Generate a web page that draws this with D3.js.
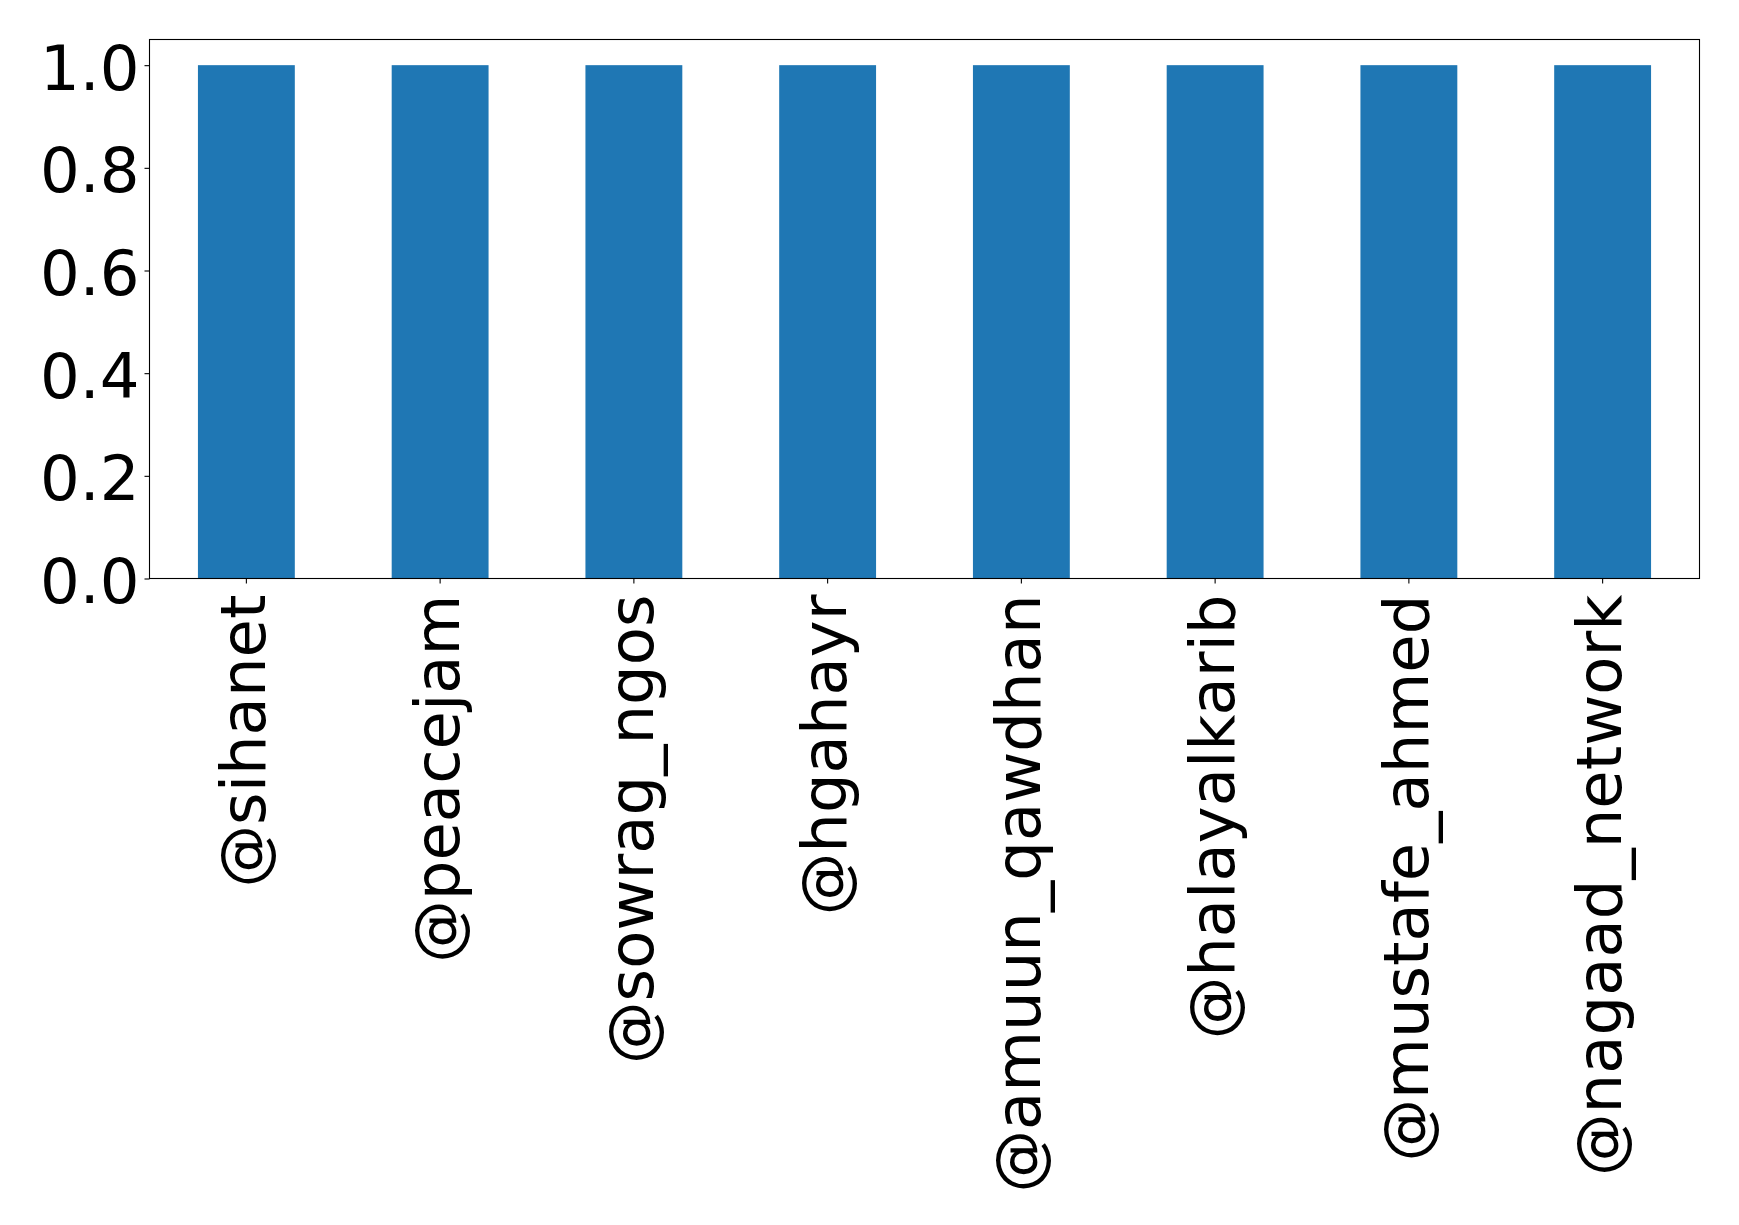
<!DOCTYPE html>
<html>
<head>
<meta charset="utf-8">
<script src="https://cdn.jsdelivr.net/npm/d3@7"></script>
<style>
  html, body { margin: 0; padding: 0; background: #fff; }
  svg { display: block; }
  text { font-family: "DejaVu Sans", sans-serif; fill: #000; }
</style>
</head>
<body>
<svg id="chart" width="1739" height="1225"></svg>
<script>
// Account handles and their counts
const categories = ["@sihanet", "@peacejam", "@sowrag_ngos", "@hgahayr",
                    "@amuun_qawdhan", "@halayalkarib", "@mustafe_ahmed", "@nagaad_network"];
const values = [1, 1, 1, 1, 1, 1, 1, 1];
const yTicks = [0.0, 0.2, 0.4, 0.6, 0.8, 1.0];

const plot = { left: 149.5, right: 1699.5, top: 39.5, bottom: 578.5 };
const fontPx = 62.5;
const tickLen = 5;
const pad = 5;

const svg = d3.select("#chart");

// Categorical axis: each slot one unit wide, bars half a slot
const x = d3.scaleBand()
  .domain(categories)
  .range([plot.left, plot.right])
  .paddingInner(0.5)
  .paddingOuter(0.25);

const y = d3.scaleLinear()
  .domain([0, 1.05])
  .range([plot.bottom, plot.top]);

// Bars
svg.append("g")
  .selectAll("rect")
  .data(values)
  .join("rect")
  .attr("x", (d, i) => x(categories[i]))
  .attr("width", x.bandwidth())
  .attr("y", d => y(d))
  .attr("height", d => y(0) - y(d))
  .attr("fill", "#1f77b4");

// Frame
svg.append("rect")
  .attr("x", plot.left)
  .attr("y", plot.top)
  .attr("width", plot.right - plot.left)
  .attr("height", plot.bottom - plot.top)
  .attr("fill", "none")
  .attr("stroke", "#000")
  .attr("stroke-width", 1.1);

// Y axis
const yAxis = d3.axisLeft(y)
  .tickValues(yTicks)
  .tickFormat(d3.format(".1f"))
  .tickSize(tickLen)
  .tickPadding(pad);

const gy = svg.append("g")
  .attr("transform", `translate(${plot.left},0)`)
  .call(yAxis);
gy.select(".domain").remove();
gy.selectAll(".tick line").attr("stroke", "#000").attr("stroke-width", 1.1);
gy.selectAll(".tick text")
  .attr("font-size", fontPx)
  .attr("font-family", "DejaVu Sans, sans-serif")
  .attr("dy", "0.385em");

// X axis with vertical labels
const xAxis = d3.axisBottom(x)
  .tickSize(tickLen)
  .tickPadding(pad);

const gx = svg.append("g")
  .attr("transform", `translate(0,${plot.bottom})`)
  .call(xAxis);
gx.select(".domain").remove();
gx.selectAll(".tick line").attr("stroke", "#000").attr("stroke-width", 1.1);
gx.selectAll(".tick text")
  .attr("font-size", fontPx)
  .attr("font-family", "DejaVu Sans, sans-serif")
  .attr("text-anchor", "end")
  .attr("y", 0)
  .attr("dy", "0.3em")
  .attr("transform", `translate(0,${tickLen + pad + 6}) rotate(-90)`);
</script>
</body>
</html>
